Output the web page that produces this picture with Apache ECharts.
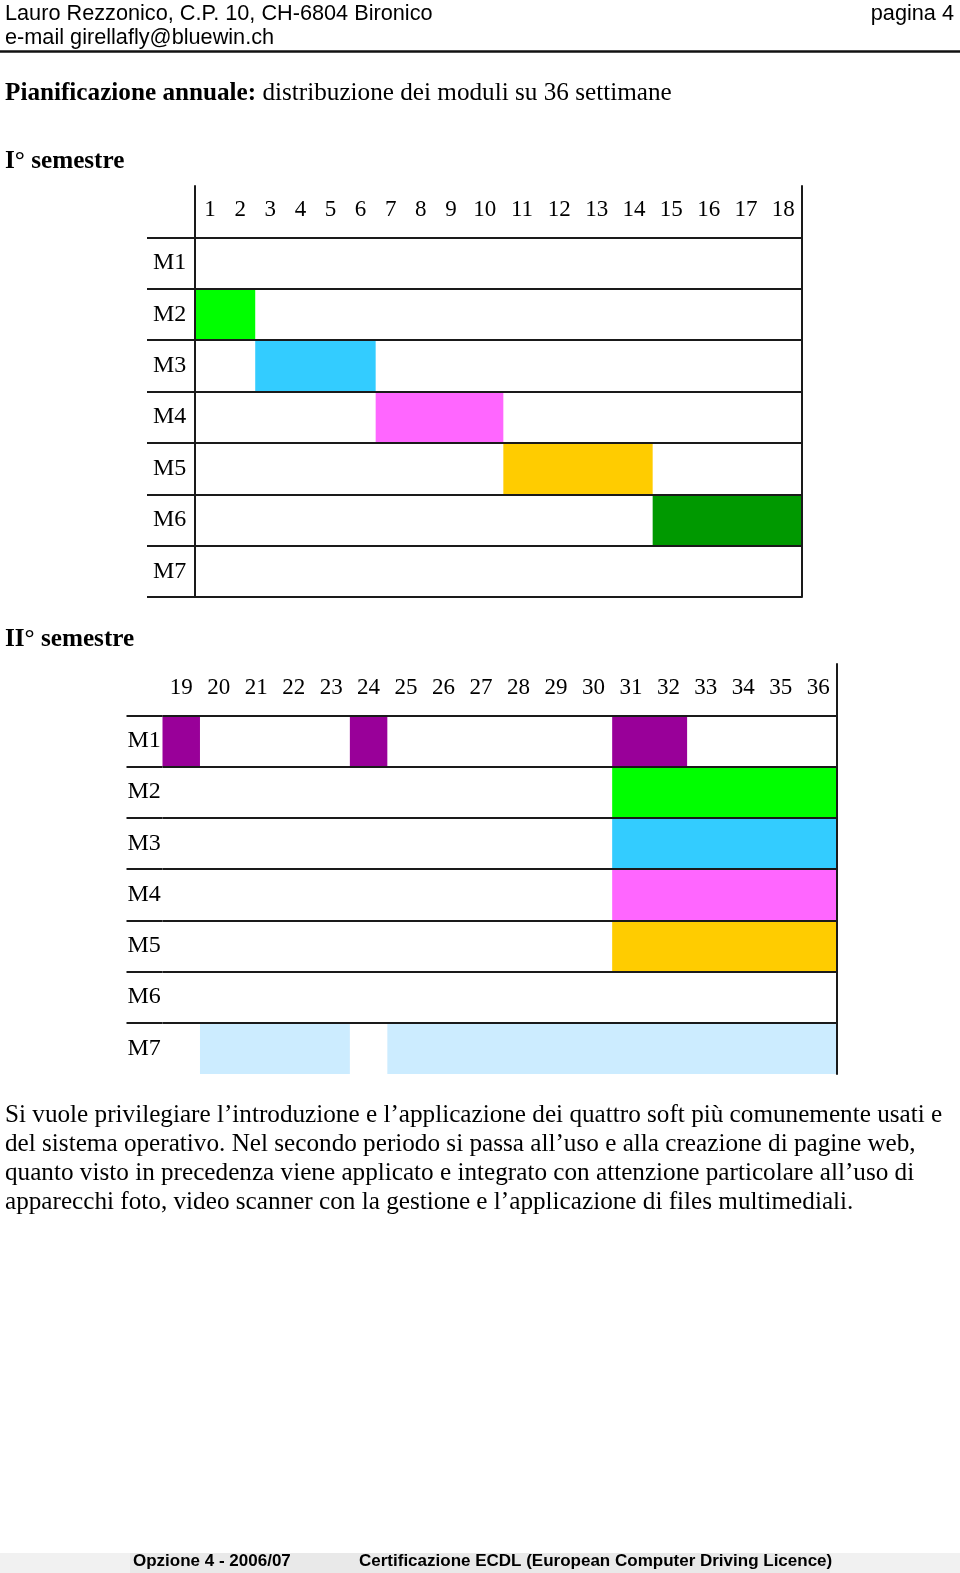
<!DOCTYPE html>
<html>
<head>
<meta charset="utf-8">
<script src="https://cdn.jsdelivr.net/npm/echarts@6/dist/echarts.min.js"></script>
<style>
html,body{margin:0;padding:0;background:#fff;}
#chart{width:960px;height:1573px;}
</style>
</head>
<body>
<div id="chart"></div>
<script>
// ---- data ----
const rows = ['', 'M1', 'M2', 'M3', 'M4', 'M5', 'M6', 'M7'];   // '' = header row
const weeksA = ['1','2','3','4','5','6','7','8','9'];
const weeksB = ['10','11','12','13','14','15','16','17','18'];
const weeksII = ['19','20','21','22','23','24','25','26','27','28','29','30','31','32','33','34','35','36'];

const semIModule = ['M2', 'M3', 'M4', 'M5', 'M6'];
const semIStart  = [1, 3, 7, 11, 15];
const semIEnd    = [2, 6, 10, 14, 18];

const semIIModule = ['M1', 'M1', 'M1', 'M2', 'M3', 'M4', 'M5', 'M7', 'M7'];
const semIIStart  = [19, 24, 31, 31, 31, 31, 31, 20, 25];
const semIIEnd    = [19, 24, 32, 36, 36, 36, 36, 23, 36];

const paragraph = [
  'Si vuole privilegiare l\u2019introduzione e l\u2019applicazione dei quattro soft pi\u00f9 comunemente usati e',
  'del sistema operativo. Nel secondo periodo si passa all\u2019uso e alla creazione di pagine web,',
  'quanto visto in precedenza viene applicato e integrato con attenzione particolare all\u2019uso di',
  'apparecchi foto, video scanner con la gestione e l\u2019applicazione di files multimediali.'
];

// ---- styles ----
const moduleColors = {
  M1: '#990099', M2: '#00FF00', M3: '#33CCFF', M4: '#FF66FF',
  M5: '#FFCC00', M6: '#009900', M7: '#CCECFF'
};
const SERIF = 'Liberation Serif, Times New Roman, serif';
const SANS = 'Liberation Sans, Arial, sans-serif';
const LINE = '#1a1a1a';

function items(mods, starts, ends) {
  return mods.map((m, i) => ({
    value: [starts[i], ends[i], rows.indexOf(m)],
    itemStyle: { color: moduleColors[m] }
  }));
}
function makeRender(firstWeek, count) {
  return function (params, api) {
    const s = Math.max(api.value(0), firstWeek);
    const e = Math.min(api.value(1), firstWeek + count - 1);
    if (s > e) return null;
    const r = api.value(2);
    const bw = api.size([1, 0])[0];
    const bh = api.size([0, 1])[1];
    const p0 = api.coord([s - firstWeek, r]);
    const p1 = api.coord([e - firstWeek, r]);
    return {
      type: 'rect',
      shape: { x: p0[0] - bw / 2, y: p0[1] - bh / 2, width: p1[0] - p0[0] + bw, height: bh },
      style: { fill: api.visual('color') }
    };
  };
}

const splitStyle = { show: true, lineStyle: { color: LINE, width: 2 } };

function weekX(gridIndex, cats) {
  return {
    type: 'category', gridIndex, data: cats, position: 'top',
    axisLine: { show: false }, axisTick: { show: false }, splitLine: { show: false },
    axisLabel: { inside: true, margin: 12, interval: 0, color: '#000', fontFamily: SERIF, fontSize: 23 }
  };
}
function hiddenX(gridIndex) {
  return { type: 'category', gridIndex, data: [''], show: false };
}
function rowY(gridIndex, opts) {
  return Object.assign({
    type: 'category', gridIndex, data: rows, inverse: true, z: 5,
    axisTick: { show: false },
    axisLine: { show: false },
    axisLabel: { show: false },
    splitLine: Object.assign({ showMinLine: false }, splitStyle)
  }, opts);
}
function txt(x, y, text, font, align) {
  return { type: 'text', x, y, style: { text, font, fill: '#000', align: align || 'left', verticalAlign: 'middle' } };
}

const chart = echarts.init(document.getElementById('chart'), null, { renderer: 'canvas' });

const option = {
  backgroundColor: '#fff',
  animation: false,
  grid: [
    { left: 147, top: 186, width: 48, height: 411 },
    { left: 195, top: 186, width: 271, height: 411 },
    { left: 466, top: 186, width: 336, height: 411 },
    { left: 126.5, top: 664, width: 36, height: 410 },
    { left: 162.5, top: 664, width: 674.5, height: 410 }
  ],
  xAxis: [
    hiddenX(0),
    weekX(1, weeksA),
    weekX(2, weeksB),
    hiddenX(3),
    weekX(4, weeksII)
  ],
  yAxis: [
    rowY(0, { axisLabel: { show: true, inside: true, margin: 6, color: '#000', fontFamily: SERIF, fontSize: 24 } }),
    rowY(1, { axisLine: { show: true, lineStyle: { color: LINE, width: 2 } } }),
    rowY(2, { position: 'right', axisLine: { show: true, lineStyle: { color: LINE, width: 2 } } }),
    rowY(3, {
      axisLabel: { show: true, inside: true, margin: 1, color: '#000', fontFamily: SERIF, fontSize: 24 },
      splitLine: Object.assign({ showMinLine: false, showMaxLine: false }, splitStyle)
    }),
    rowY(4, {
      position: 'right', axisLine: { show: true, lineStyle: { color: LINE, width: 2 } },
      splitLine: Object.assign({ showMinLine: false, showMaxLine: false }, splitStyle)
    })
  ],
  series: [
    { type: 'custom', xAxisIndex: 1, yAxisIndex: 1, renderItem: makeRender(1, 9),
      encode: { x: [0, 1], y: 2 }, data: items(semIModule, semIStart, semIEnd) },
    { type: 'custom', xAxisIndex: 2, yAxisIndex: 2, renderItem: makeRender(10, 9),
      encode: { x: [0, 1], y: 2 }, data: items(semIModule, semIStart, semIEnd) },
    { type: 'custom', xAxisIndex: 4, yAxisIndex: 4, renderItem: makeRender(19, 18),
      encode: { x: [0, 1], y: 2 }, data: items(semIIModule, semIIStart, semIIEnd) }
  ],
  graphic: [
    // page header
    txt(5, 14, 'Lauro Rezzonico, C.P. 10, CH-6804 Bironico', '21.7px ' + SANS),
    txt(954, 14, 'pagina 4', '21.7px ' + SANS, 'right'),
    txt(5, 38, 'e-mail girellafly@bluewin.ch', '21.7px ' + SANS),
    { type: 'rect', shape: { x: 0, y: 50.2, width: 960, height: 2.5 }, style: { fill: '#111' } },
    // title
    { type: 'text', x: 5, y: 93.5, style: {
        text: '{b|Pianificazione annuale:}{n| distribuzione dei moduli su 36 settimane}',
        verticalAlign: 'middle',
        rich: {
          b: { fontFamily: SERIF, fontSize: 25.2, fontWeight: 'bold', fill: '#000' },
          n: { fontFamily: SERIF, fontSize: 25.2, fill: '#000' }
        } } },
    txt(5, 161, 'I\u00b0 semestre', 'bold 25.2px ' + SERIF),
    txt(5, 639, 'II\u00b0 semestre', 'bold 25.2px ' + SERIF),
    // paragraph
    ...paragraph.map((t, i) => txt(5, 1115.5 + i * 28.8, t, '25.2px ' + SERIF)),
    // footer
    { type: 'rect', shape: { x: 0, y: 1553, width: 960, height: 20 }, style: { fill: '#f1f1f1' } },
    { type: 'rect', shape: { x: 130, y: 1553, width: 700, height: 20 }, style: { fill: '#e9e9e9' } },
    txt(133, 1561, 'Opzione 4 - 2006/07', 'bold 17px ' + SANS),
    txt(359, 1561, 'Certificazione ECDL (European Computer Driving Licence)', 'bold 17px ' + SANS)
  ]
};
chart.setOption(option);
</script>
</body>
</html>
